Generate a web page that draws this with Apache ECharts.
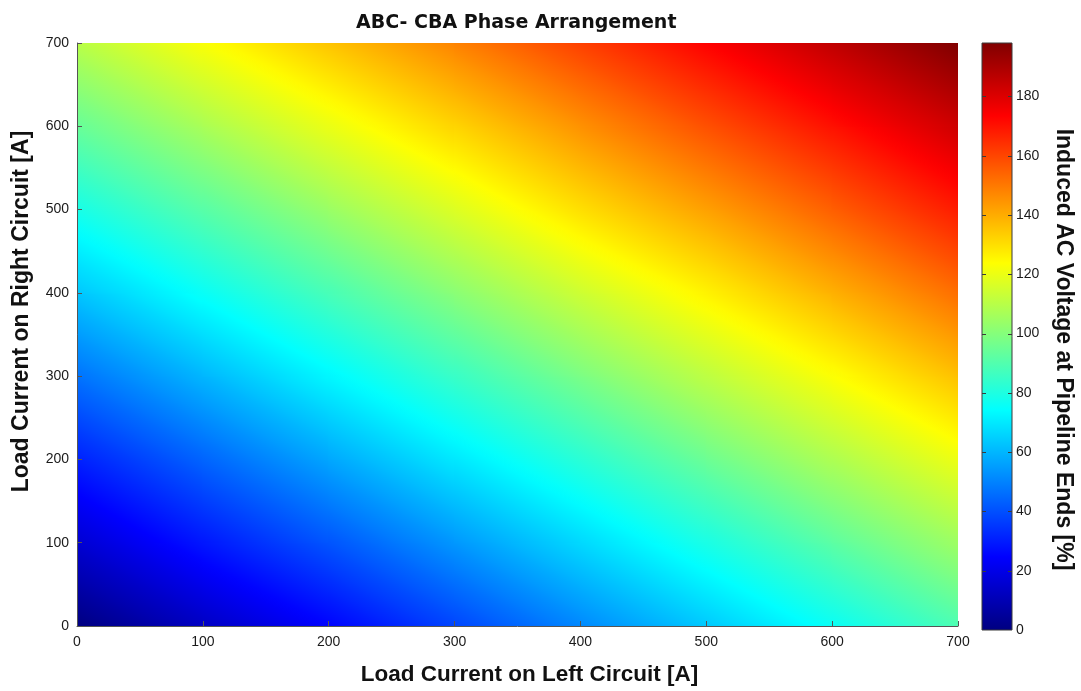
<!DOCTYPE html>
<html>
<head>
<meta charset="utf-8">
<title>ABC-CBA Phase Arrangement</title>
<script src="https://cdn.jsdelivr.net/npm/echarts@6/dist/echarts.min.js"></script>
<style>
  html, body { margin: 0; padding: 0; background: #ffffff; }
  #chart { width: 1081px; height: 691px; }
</style>
</head>
<body>
<div id="chart"></div>
<script>
// Grid of load currents (A) on each circuit
const leftCurrent = [0, 100, 200, 300, 400, 500, 600, 700];
const rightCurrent = [0, 100, 200, 300, 400, 500, 600, 700];

// Induced AC voltage at the pipeline ends (%), one row per right-circuit current,
// columns follow leftCurrent
const voltageRight0   = [0,   13,  25,  38,  51,  64,  76,  89];
const voltageRight100 = [16,  29,  41,  54,  67,  79,  92,  105];
const voltageRight200 = [31,  44,  57,  70,  82,  95,  108, 120];
const voltageRight300 = [47,  60,  73,  85,  98,  111, 123, 136];
const voltageRight400 = [63,  76,  88,  101, 114, 126, 139, 152];
const voltageRight500 = [79,  91,  104, 117, 130, 142, 155, 168];
const voltageRight600 = [94,  107, 120, 132, 145, 158, 170, 183];
const voltageRight700 = [110, 123, 135, 148, 161, 173, 186, 198];

const voltageRows = [
  voltageRight0, voltageRight100, voltageRight200, voltageRight300,
  voltageRight400, voltageRight500, voltageRight600, voltageRight700
];

// Colour scale range, its tick values and the jet colormap
const voltageMin = 0;
const voltageMax = 198;
const colorBarTicks = [0, 20, 40, 60, 80, 100, 120, 140, 160, 180];
const jetColors = ['#000080', '#0000ff', '#0080ff', '#00ffff', '#80ff80',
                   '#ffff00', '#ff8000', '#ff0000', '#800000'];

const tickFont = '"Liberation Sans", Arial, sans-serif';
const boldFont = '"Liberation Sans", Arial, sans-serif';

// One cell per pair of neighbouring grid points: [L0, R0, L1, R1, vBL, vBR, vTL, vTR]
const cells = [];
for (let j = 0; j < rightCurrent.length - 1; j++) {
  for (let i = 0; i < leftCurrent.length - 1; i++) {
    cells.push([
      leftCurrent[i], rightCurrent[j], leftCurrent[i + 1], rightCurrent[j + 1],
      voltageRows[j][i], voltageRows[j][i + 1], voltageRows[j + 1][i], voltageRows[j + 1][i + 1]
    ]);
  }
}

function jet(v) {
  const t = Math.min(1, Math.max(0, (v - voltageMin) / (voltageMax - voltageMin)));
  return echarts.color.lerp(t, jetColors);
}

// Each cell is shaded smoothly between its corner values
function renderCell(params, api) {
  const p0 = api.coord([api.value(0), api.value(1)]);
  const p1 = api.coord([api.value(2), api.value(3)]);
  const vBL = api.value(4), vBR = api.value(5), vTL = api.value(6), vTR = api.value(7);
  const x = Math.min(p0[0], p1[0]);
  const y = Math.min(p0[1], p1[1]);
  const w = Math.abs(p1[0] - p0[0]);
  const h = Math.abs(p1[1] - p0[1]);
  const vc = (vBL + vBR + vTL + vTR) / 4;
  // value change per pixel; screen y grows downward while current grows upward
  const gx = ((vBR - vBL) + (vTR - vTL)) / (2 * w);
  const gy = -((vTL - vBL) + (vTR - vBR)) / (2 * h);
  const g = Math.sqrt(gx * gx + gy * gy);
  let fill;
  if (g < 1e-9) {
    fill = jet(vc);
  } else {
    const ux = gx / g, uy = gy / g;
    const half = (w * Math.abs(ux) + h * Math.abs(uy)) / 2;
    const cx = x + w / 2, cy = y + h / 2;
    const vA = vc - half * g, vB = vc + half * g;
    const stops = [];
    const n = 16;
    for (let k = 0; k <= n; k++) {
      stops.push({ offset: k / n, color: jet(vA + (vB - vA) * k / n) });
    }
    fill = new echarts.graphic.LinearGradient(
      cx - ux * half, cy - uy * half, cx + ux * half, cy + uy * half, stops, true);
  }
  return {
    type: 'rect',
    shape: { x: x - 0.6, y: y - 0.6, width: w + 1.2, height: h + 1.2 },
    style: { fill: fill },
    silent: true
  };
}

// Colour bar: one bar spanning the full voltage range, with inward ticks on both edges
function renderColorBar(params, api) {
  const p0 = api.coord([0, api.value(0)]);
  const p1 = api.coord([1, api.value(1)]);
  const left = Math.min(p0[0], p1[0]);
  const right = Math.max(p0[0], p1[0]);
  const stops = jetColors.map((c, i) => ({ offset: i / (jetColors.length - 1), color: c }));
  const children = [{
    type: 'rect',
    shape: {
      x: left, y: Math.min(p0[1], p1[1]),
      width: right - left, height: Math.abs(p1[1] - p0[1])
    },
    style: {
      fill: new echarts.graphic.LinearGradient(0, 1, 0, 0, stops),
      stroke: '#3a3a3a', lineWidth: 1
    }
  }];
  colorBarTicks.forEach(function (v) {
    if (v <= voltageMin) return;
    const ty = Math.round(api.coord([0, v])[1]) + 0.5;
    children.push({ type: 'line', shape: { x1: left, y1: ty, x2: left + 4, y2: ty },
      style: { stroke: '#3a3a3a', lineWidth: 1 } });
    children.push({ type: 'line', shape: { x1: right - 4, y1: ty, x2: right, y2: ty },
      style: { stroke: '#3a3a3a', lineWidth: 1 } });
  });
  return { type: 'group', children: children, silent: true };
}

const chart = echarts.init(document.getElementById('chart'), null, { renderer: 'canvas' });

const axisLabelStyle = { color: '#1a1a1a', fontFamily: tickFont, fontSize: 14 };

chart.setOption({
  animation: false,
  backgroundColor: '#ffffff',
  title: {
    text: 'ABC- CBA Phase Arrangement',
    left: 351, top: 9,
    textStyle: { fontFamily: '"DejaVu Sans", Verdana, sans-serif', fontWeight: 'bold', fontSize: 19, color: '#111' }
  },
  grid: [
    { left: 77, top: 43, width: 881, height: 585 },
    { left: 982, top: 43, width: 30, height: 587 }
  ],
  xAxis: [
    {
      gridIndex: 0, type: 'value', min: 0, max: 700, interval: 100, z: 10,
      name: 'Load Current on Left Circuit [A]',
      nameLocation: 'middle', nameGap: 37,
      nameTextStyle: {
        fontFamily: boldFont, fontWeight: 'bold', fontSize: 22.5, color: '#111',
        padding: [0, 0, 0, 24]
      },
      axisLine: { show: true, lineStyle: { color: '#555', width: 1 } },
      axisTick: { inside: true, length: 5, lineStyle: { color: '#555' } },
      axisLabel: Object.assign({ margin: 9 }, axisLabelStyle),
      splitLine: { show: false }
    },
    {
      gridIndex: 1, type: 'value', min: 0, max: 1, show: false
    }
  ],
  yAxis: [
    {
      gridIndex: 0, type: 'value', min: 0, max: 700, interval: 100, z: 10,
      name: 'Load Current on Right Circuit [A]',
      nameLocation: 'middle', nameGap: 44, nameRotate: 90,
      nameTextStyle: {
        fontFamily: boldFont, fontWeight: 'bold', fontSize: 23, color: '#111',
        padding: [0, 0, 0, 46]
      },
      axisLine: { show: true, lineStyle: { color: '#555', width: 1 } },
      axisTick: { inside: true, length: 5, lineStyle: { color: '#555' } },
      axisLabel: Object.assign({ margin: 8 }, axisLabelStyle),
      splitLine: { show: false }
    },
    {
      gridIndex: 1, type: 'value', min: voltageMin, max: voltageMax, interval: 20,
      position: 'right',
      name: 'Induced AC Voltage at Pipeline Ends [%]',
      nameLocation: 'middle', nameGap: 40, nameRotate: -90,
      nameTextStyle: {
        fontFamily: boldFont, fontWeight: 'bold', fontSize: 23, color: '#111',
        padding: [0, 0, 0, 26]
      },
      axisLine: { show: false },
      axisTick: { show: false },
      axisLabel: Object.assign({ margin: 4, showMaxLabel: false }, axisLabelStyle),
      splitLine: { show: false }
    }
  ],
  series: [
    {
      type: 'custom',
      name: 'Induced AC Voltage',
      xAxisIndex: 0, yAxisIndex: 0,
      clip: true,
      renderItem: renderCell,
      data: cells,
      z: 0
    },
    {
      type: 'custom',
      name: 'Colour scale',
      xAxisIndex: 1, yAxisIndex: 1,
      renderItem: renderColorBar,
      data: [[voltageMin, voltageMax]],
      z: 0
    }
  ]
});
</script>
</body>
</html>
